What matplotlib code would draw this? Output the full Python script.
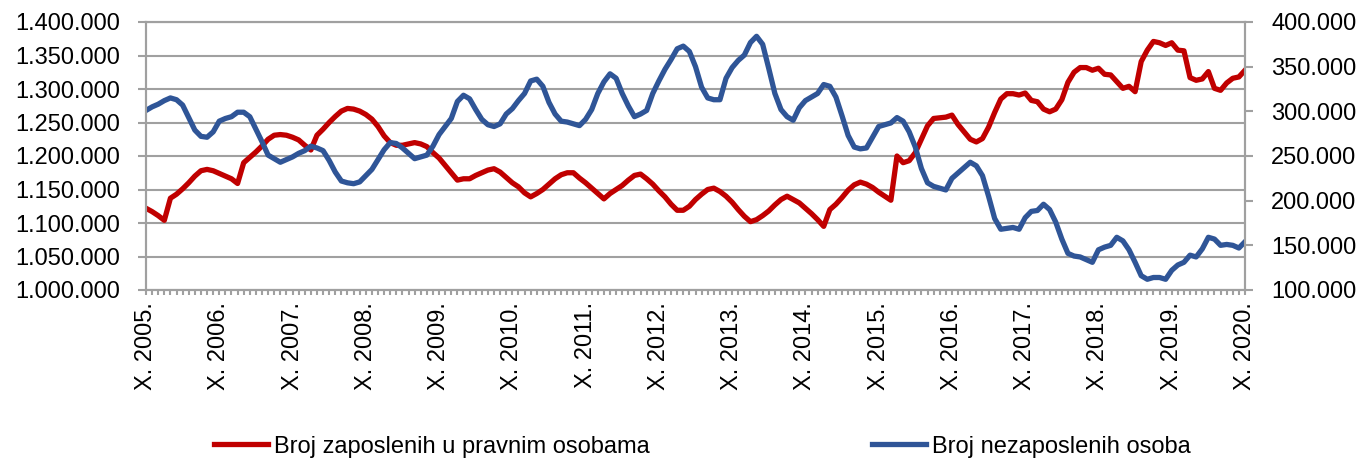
# -*- coding: utf-8 -*-
"""Zaposleni u pravnim osobama vs nezaposleni, X. 2005. - X. 2020. (mjesecno)."""
import numpy as np
import matplotlib
matplotlib.use('Agg')
import matplotlib.pyplot as plt
from matplotlib.ticker import FuncFormatter, MultipleLocator

plt.rcParams['font.family'] = ['Liberation Sans', 'DejaVu Sans']

RED = '#C00000'
BLUE = '#2F5597'
GRID = '#A0A0A0'

# godine za oznake osi (svaki X. mjesec)
godine = list(range(2005, 2021))

# broj zaposlenih u pravnim osobama, u tisucama (X.2005 .. X.2020)
zaposleni = [
    1122, 1117, 1111, 1104, 1137, 1143, 1151, 1160, 1170, 1178, 1180, 1178,
    1174, 1170, 1166, 1159, 1190, 1198, 1206, 1215, 1225, 1231, 1232, 1231,
    1228, 1224, 1216, 1209, 1231, 1240, 1250, 1259, 1267, 1271, 1270, 1267,
    1262, 1255, 1244, 1230, 1220, 1216, 1216, 1218, 1220, 1218, 1214, 1205,
    1197, 1186, 1175, 1164, 1166, 1166, 1171, 1175, 1179, 1181, 1176, 1168,
    1160, 1154, 1145, 1139, 1144, 1150, 1158, 1166, 1172, 1175, 1175, 1167,
    1160, 1152, 1144, 1136, 1144, 1150, 1156, 1164, 1171, 1173, 1166, 1158,
    1148, 1139, 1128, 1119, 1119, 1125, 1135, 1143, 1150, 1152, 1147, 1140,
    1131, 1120, 1110, 1102, 1105, 1111, 1118, 1127, 1135, 1140, 1135, 1130,
    1122, 1114, 1105, 1095, 1120, 1128, 1138, 1149, 1157, 1161, 1158, 1153,
    1146, 1140, 1134, 1200, 1190, 1193, 1205, 1225, 1245, 1256, 1257, 1258,
    1261, 1247, 1236, 1225, 1221, 1226, 1243, 1265, 1285, 1293, 1293, 1291,
    1294, 1283, 1281, 1270, 1266, 1270, 1284, 1310, 1325, 1332, 1332, 1328,
    1331, 1322, 1321, 1311, 1301, 1304, 1296, 1341, 1358, 1371, 1369, 1365,
    1369, 1358, 1357, 1317, 1313, 1315, 1326, 1301, 1298, 1309, 1316, 1318,
    1328,
]

# broj nezaposlenih osoba, u tisucama
nezaposleni = [
    301, 305, 308, 312, 315, 313, 307, 293, 279, 272, 271, 277,
    289, 292, 294, 299, 299, 294, 280, 266, 251, 247, 243, 246,
    249, 253, 256, 261, 259, 256, 245, 232, 222, 220, 219, 221,
    228, 235, 246, 257, 265, 264, 259, 253, 247, 249, 251, 261,
    274, 283, 292, 311, 318, 314, 302, 291, 285, 283, 286, 297,
    303, 312, 320, 334, 336, 328, 310, 297, 289, 288, 286, 284,
    291, 302, 320, 333, 342, 337, 320, 306, 294, 297, 301, 320,
    334, 347, 358, 370, 373, 367, 350, 327, 315, 313, 313, 337,
    349, 357, 363, 377, 384, 375, 348, 320, 302, 294, 290, 304,
    312, 316, 320, 330, 328, 316, 295, 273, 260, 258, 259, 271,
    283, 285, 287, 293, 289, 277, 260, 236, 220, 216, 214, 212,
    225, 231, 237, 243, 239, 228, 205, 180, 168, 169, 170, 168,
    181, 188, 189, 196, 190, 176, 157, 141, 138, 137, 134, 131,
    145, 148, 150, 159, 155, 145, 131, 116, 112, 114, 114, 112,
    122, 128, 131, 139, 137, 146, 159, 157, 150, 151, 150, 147,
    154,
]


def _fmt(v, _pos):
    # tisuce -> "1.250.000"
    return f'{int(round(v * 1000)):,}'.replace(',', '.')


fig = plt.figure(figsize=(13.64, 4.62), dpi=100)
ax = fig.add_axes([146 / 1364, 1 - 290 / 462, 1099 / 1364, 268 / 462])
ax2 = ax.twinx()

x = np.arange(len(zaposleni))
l1, = ax.plot(x, zaposleni, color=RED, lw=3.8, solid_joinstyle='round',
              label='Broj zaposlenih u pravnim osobama')
l2, = ax2.plot(x, nezaposleni, color=BLUE, lw=3.8, solid_joinstyle='round',
               label='Broj nezaposlenih osoba')

# ── osi ──
ax.set_xlim(0, len(x) - 1)
ax.set_ylim(1000, 1400)
ax2.set_ylim(100, 400)
ax.yaxis.set_major_locator(MultipleLocator(50))
ax2.yaxis.set_major_locator(MultipleLocator(50))
ax.yaxis.set_major_formatter(FuncFormatter(_fmt))
ax2.yaxis.set_major_formatter(FuncFormatter(_fmt))

ax.set_xticks(np.arange(0, len(x), 12))
ax.set_xticklabels([f'X. {g}.' for g in godine], rotation=90)
ax.xaxis.set_minor_locator(MultipleLocator(1))

ax.grid(True, axis='y', color=GRID, lw=1.5)
ax.set_axisbelow(True)
for a in (ax, ax2):
    for s in a.spines.values():
        s.set_color(GRID)
        s.set_linewidth(1.5)

ax.tick_params(axis='y', length=5.8, width=1.5, color=GRID, pad=13, labelsize=17)
ax2.tick_params(axis='y', length=5.8, width=1.5, color=GRID, pad=13, labelsize=17)
ax.tick_params(axis='x', which='both', length=3.6, width=1.5, color=GRID,
               pad=5, labelsize=17)

fig.legend(handles=[l1, l2], loc='center', bbox_to_anchor=(0.515, 0.033),
           ncol=2, frameon=False, fontsize=17, handlelength=2.3,
           handletextpad=0.25, columnspacing=9.4)

fig.savefig('out.png', dpi=100)
